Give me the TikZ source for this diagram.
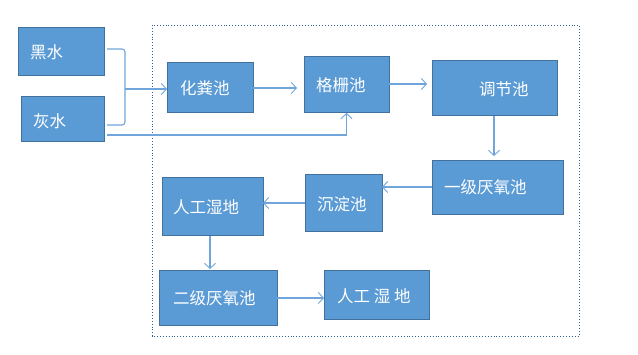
\documentclass[tikz,border=0pt]{standalone}
\usepackage{fontspec}
\setmainfont{Noto Sans CJK SC}
\usetikzlibrary{arrows.meta}
\definecolor{boxfill}{HTML}{5B9BD5}
\definecolor{boxline}{HTML}{41719C}
\definecolor{conn}{HTML}{6FA5DA}
\definecolor{frame}{HTML}{2E5F95}
\begin{document}
\begin{tikzpicture}[x=1pt,y=-1pt,
  box/.style={draw=boxline, fill=boxfill, line width=1pt, inner sep=0pt, outer sep=0pt, anchor=north west},
  lbl/.style={text=white, font=\fontsize{16.5}{16.5}\selectfont, inner sep=0pt, anchor=west},
  conn/.style={draw=conn, line width=1.1pt, -{Straight Barb[length=5pt,width=11pt,line width=0.9pt]}},
  plain/.style={draw=conn, line width=1.1pt}]
\useasboundingbox (0,0) rectangle (638,355);
% frame
\draw[frame, dotted, line width=0.9pt] (152,25) rectangle (579,336);
% boxes
\node[box, minimum width=86pt, minimum height=48pt] (hs) at (18,28) {};
\node[box, minimum width=83pt, minimum height=45pt] (hu) at (21,97) {};
\node[box, minimum width=86pt, minimum height=50pt] (hf) at (167,63) {};
\node[box, minimum width=85pt, minimum height=56pt] (gz) at (304,57) {};
\node[box, minimum width=125pt, minimum height=55pt] (tj) at (432,61) {};
\node[box, minimum width=131pt, minimum height=54pt] (yj) at (432,161) {};
\node[box, minimum width=77pt, minimum height=57pt] (cd) at (305,175) {};
\node[box, minimum width=101pt, minimum height=58pt] (rg) at (162,178) {};
\node[box, minimum width=118pt, minimum height=55pt] (ej) at (159,271) {};
\node[box, minimum width=105pt, minimum height=49pt] (rh) at (324,271) {};
% labels
\node[lbl] (ths) at (30,52) {黑水};
\node[lbl] (thu) at (33,121) {灰水};
\node[lbl] (thf) at (180,88) {化粪池};
\node[lbl] (tgz) at (316,85) {格栅池};
\node[lbl] (ttj) at (479,89) {调节池};
\node[lbl] (tyj) at (444,187) {一级厌氧池};
\node[lbl] (tcd) at (317,204) {沉淀池};
\node[lbl] (trg) at (173,207) {人工湿地};
\node[lbl] (tej) at (173,298) {二级厌氧池};
\node[lbl] (trh) at (337,296) {人工 湿 地};
% bracket
\coordinate (b1) at (107,49);
\coordinate (b2) at (107,125);
\coordinate (bm) at (125,89);
\draw[plain, rounded corners=3pt] (b1) -- (125,49) -- (125,125) -- (b2);
\draw[conn] (bm) -- (hf.west |- bm);
% grey water bypass
\coordinate (g0) at (107,135);
\draw[conn] (g0) -| (gz.south);
% main chain
\draw[conn, shorten >=7pt] (hf.east |- 0,88) -- (gz.west |- 0,88);
\draw[conn, shorten >=5pt] (gz.east |- 0,84) -- (tj.west |- 0,84);
\draw[conn, shorten >=5pt] (tj.south -| 494,0) -- (yj.north -| 494,0);
\draw[conn] (yj.west |- 0,187) -- (cd.east |- 0,187);
\draw[conn] (cd.west |- 0,203) -- (rg.east |- 0,203);
\draw[conn, shorten >=2pt] (rg.south -| 210,0) -- (ej.north -| 210,0);
\draw[conn] (ej.east |- 0,298) -- (rh.west |- 0,298);
\end{tikzpicture}
\end{document}
